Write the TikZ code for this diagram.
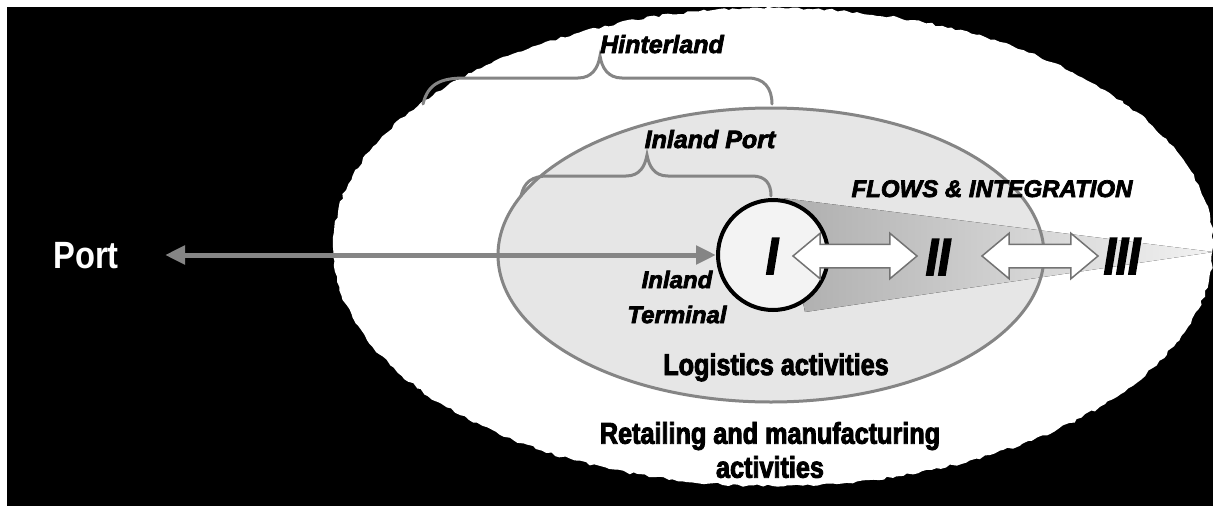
\documentclass[tikz,border=0pt]{standalone}
\usepackage{fontspec}
\setmainfont{Liberation Sans}
\newfontfamily\condfont{Liberation Sans}[FakeStretch=0.84, BoldFeatures={FakeStretch=0.84,FakeBold=3}, BoldItalicFeatures={FakeStretch=0.84,FakeBold=3}]
\newfontfamily\heavyfont{Liberation Sans}[BoldFeatures={FakeBold=3}, BoldItalicFeatures={FakeBold=3}]
\newfontfamily\portfont{Liberation Sans}[FakeStretch=0.86, BoldFeatures={FakeStretch=0.86}]
\usetikzlibrary{shapes.geometric,shapes.arrows,arrows.meta,decorations.pathmorphing}
\definecolor{brgray}{HTML}{858585}
\definecolor{ipfill}{HTML}{E6E6E6}
\definecolor{circfill}{HTML}{F3F3F3}
\tikzset{
  brace/.style={draw=brgray, line width=3pt, line cap=round},
  itlabel/.style={font=\heavyfont\fontsize{24}{28}\selectfont\bfseries\itshape, text=black, inner sep=0pt},
  actlabel/.style={font=\condfont\fontsize{30}{34}\selectfont\bfseries, text=black, inner sep=0pt, align=center},
  roman/.style={font=\condfont\fontsize{52}{56}\selectfont\bfseries\itshape, text=black, inner sep=0pt},
  dblarrow/.style={double arrow, draw=black!55, fill=white, line width=1.5pt, inner sep=0pt,
    text height=11pt, text depth=11pt, double arrow head extend=11pt, double arrow tip angle=80},
  portarrow/.style={draw=brgray, line width=5pt, {Triangle[length=20pt,width=18pt]}-{Triangle[length=20pt,width=18pt]}},
}
\begin{document}
\begin{tikzpicture}[x=1pt,y=-1pt]
\useasboundingbox (0,0) rectangle (1213,506);
\fill[white] (0,0) rectangle (1213,506);
\fill[black] (7,7) rectangle (1213,506);
% outer hinterland ellipse
\fill[white, decorate, decoration={random steps, segment length=5pt, amplitude=1.4pt}]
  (773,247) ellipse [x radius=440, y radius=239];
% inner inland port ellipse fill
\fill[ipfill] (771,255) ellipse [x radius=273, y radius=147];
% flow cone
\fill[left color=black!32, right color=black!5] (782,198) -- (1213,252) -- (805,312) -- cycle;
% inner ellipse outline
\draw[brgray, line width=3pt] (771,255) ellipse [x radius=273, y radius=147];
% braces
\draw[brace] (423,104) .. controls (428,84) and (440,78) .. (465,78) -- (578,78)
  .. controls (592,78) and (598,68) .. (600,56) .. controls (602,68) and (608,78) .. (622,78)
  -- (748,78) .. controls (764,78) and (772,88) .. (772,104);
\draw[brace] (521,196) .. controls (524,182) and (532,176) .. (548,176) -- (626,176)
  .. controls (640,176) and (645,166) .. (647,155) .. controls (649,166) and (654,176) .. (668,176)
  -- (752,176) .. controls (766,176) and (771,184) .. (771,196);
% terminal circle
\node[circle, draw=black, line width=4pt, fill=circfill, minimum size=110pt, inner sep=0pt] (circ) at (773,255) {};
% port
\node[font=\portfont\fontsize{38}{44}\selectfont\bfseries, text=white, inner sep=0pt, anchor=base] (port) at (86,268) {Port};
\coordinate (ptip) at (165,255);
\draw[portarrow] (ptip) -- (circ.west);
% double arrows
\node[dblarrow, minimum height=124pt] (a1) at (855,256) {};
\node[dblarrow, minimum height=116pt] (a2) at (1040,256) {};
% roman numerals
\node[roman, anchor=base] (r1) at (772,274) {I};
\node[roman, anchor=base] (r2) at (938,275) {II};
\node[roman, anchor=base] (r3) at (1122,274) {III};
% labels
\node[itlabel, font=\heavyfont\fontsize{25}{28}\selectfont\bfseries\itshape, anchor=base] (hint) at (662,53) {Hinterland};
\node[itlabel, font=\heavyfont\fontsize{25}{28}\selectfont\bfseries\itshape, anchor=base] (iport) at (710,148) {Inland Port};
\node[itlabel, anchor=base] (flows) at (992,197) {FLOWS \& INTEGRATION};
\node[itlabel, align=center, font=\heavyfont\fontsize{24}{35}\selectfont\bfseries\itshape] (term) at (677,297) {Inland\\Terminal};
\node[actlabel, anchor=base] (logi) at (776,375) {Logistics activities};
\node[actlabel] (retail) at (770,450) {Retailing and manufacturing\\activities};
\end{tikzpicture}
\end{document}
